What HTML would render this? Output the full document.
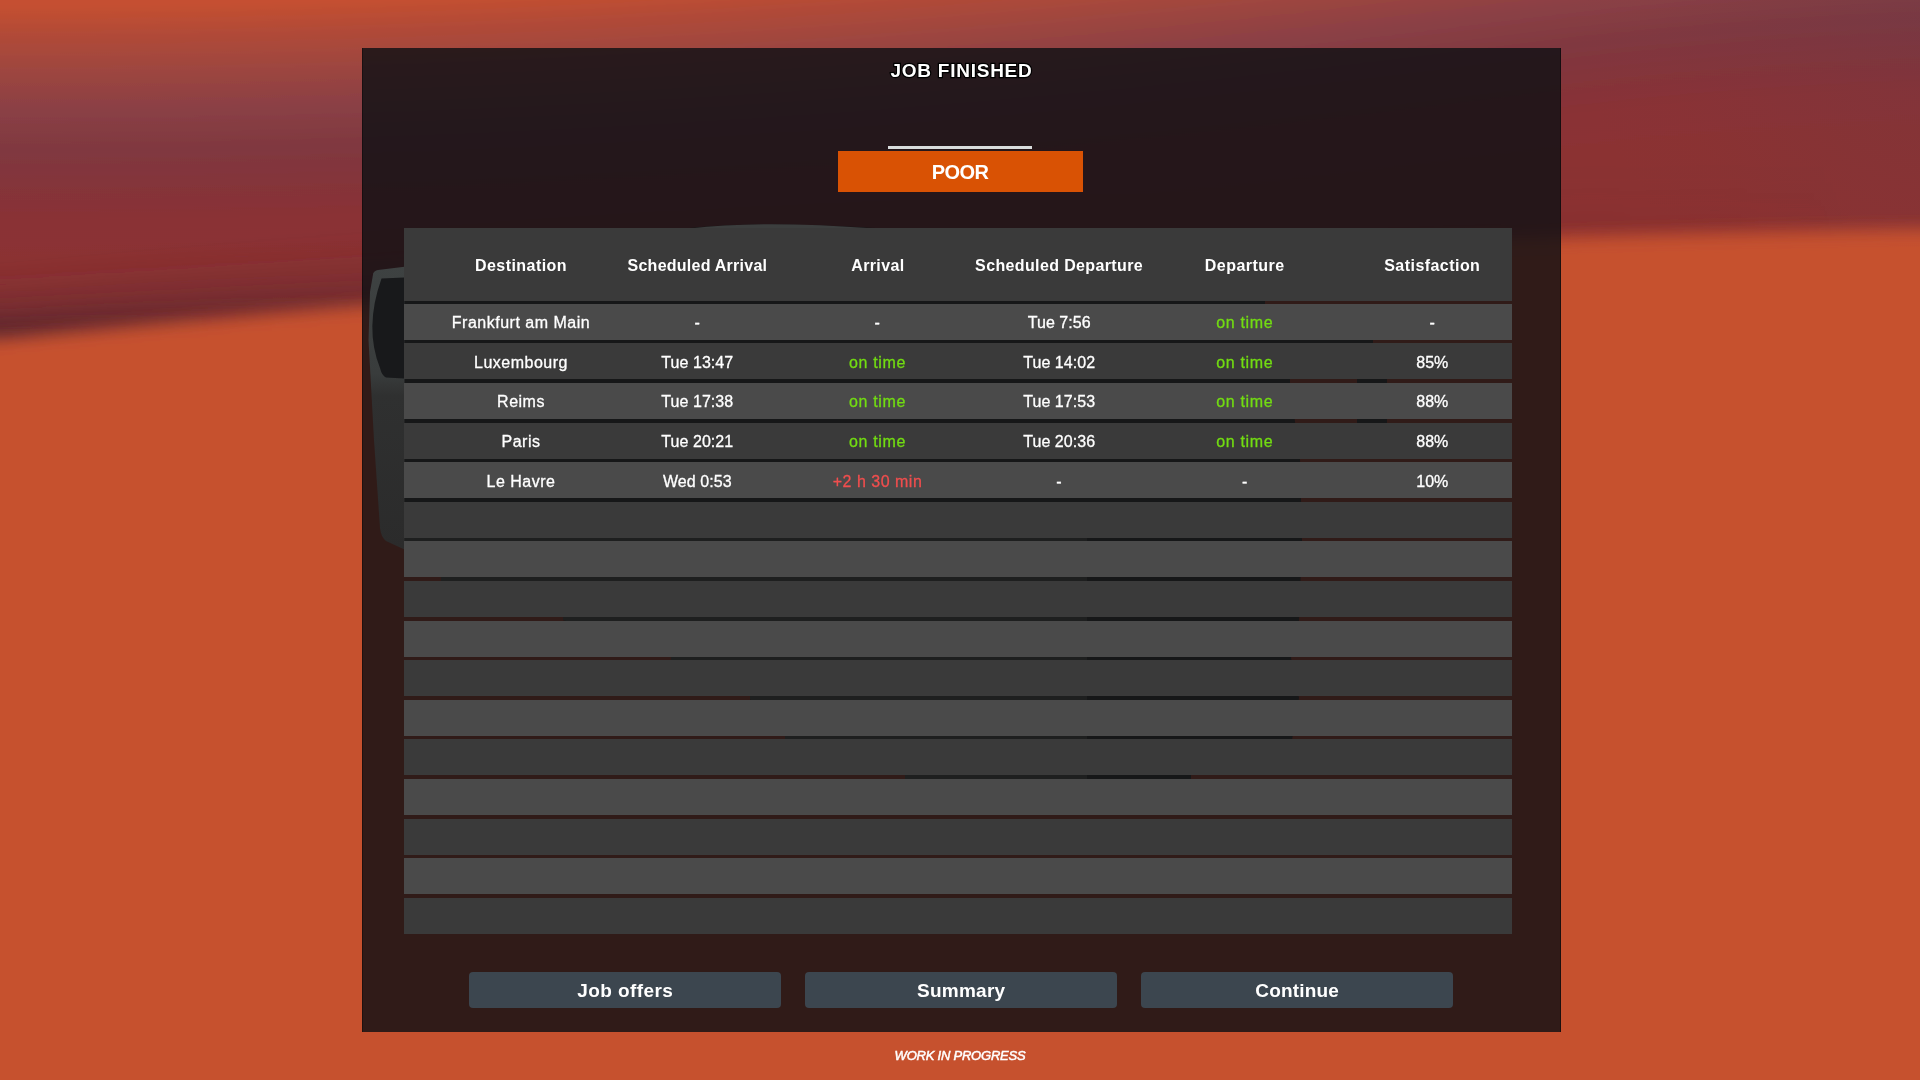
<!DOCTYPE html>
<html>
<head>
<meta charset="utf-8">
<title>Job Finished</title>
<style>
*{margin:0;padding:0;box-sizing:border-box}
html,body{width:1920px;height:1080px;overflow:hidden;background:#c6512f;font-family:"Liberation Sans",sans-serif;}
#bg{position:absolute;left:0;top:0;width:1920px;height:1080px;}
#panel{position:absolute;left:362px;top:48px;width:1199px;height:984px;background:rgba(17,17,20,.83);box-shadow:inset 1px 0 0 rgba(0,0,0,.35),inset -1px 0 0 rgba(0,0,0,.4);}
#fg{position:absolute;left:0;top:0;width:1920px;height:1080px;will-change:transform;}
#art{position:absolute;left:0;top:0;width:1920px;height:1080px;}
.row{position:absolute;left:403.5px;width:1108.5px;height:36px;}
.l{background:#4a4a4a}
.d{background:#3a3a3a}
#head{position:absolute;left:403.5px;top:228px;width:1108.5px;height:73px;background:#3a3a3a}
.t{position:absolute;white-space:nowrap;color:#fff;transform:translateX(-50%);line-height:20px;font-size:16px;letter-spacing:.5px;-webkit-text-stroke:.3px currentColor;}
.n{letter-spacing:.05px}
.h{font-weight:bold;top:255.7px;letter-spacing:.45px;-webkit-text-stroke:0}
.g{color:#72dc12;letter-spacing:.65px}
.r{color:#f04e4e}
#title{position:absolute;left:961.5px;top:59.1px;transform:translateX(-50%);white-space:nowrap;color:#fff;font-weight:bold;font-size:19px;line-height:24px;letter-spacing:.75px;-webkit-text-stroke:2.5px #000;paint-order:stroke fill;}
#uline{position:absolute;left:888px;top:145.5px;width:144px;height:3.5px;background:#d9dddd}
#badge{position:absolute;left:837.5px;top:151px;width:245px;height:40.7px;background:#d95204;color:#fff;font-weight:bold;font-size:20px;text-align:center;line-height:42.2px;letter-spacing:-.6px;}
.btn{position:absolute;top:971.7px;width:312px;height:36px;background:#3c464f;border-radius:4px;color:#fff;font-weight:bold;font-size:19px;text-align:center;line-height:38.4px;letter-spacing:.4px;}
#wip{position:absolute;left:960px;top:1047.3px;transform:translateX(-50%);white-space:nowrap;color:#fff;font-style:italic;font-size:13px;line-height:18px;letter-spacing:-.22px;-webkit-text-stroke:.5px #fff;}
</style>
</head>
<body>
<svg id="bg" viewBox="0 0 1920 1080">
<defs>
<linearGradient id="gt" x1="0" y1="0" x2="0" y2="1"><stop offset="0.0000" stop-color="#c6512f"/><stop offset="0.0750" stop-color="#c55030"/><stop offset="0.1283" stop-color="#b04a38"/><stop offset="0.1900" stop-color="#9c4540"/><stop offset="0.2517" stop-color="#8a4045"/><stop offset="0.3167" stop-color="#803840"/><stop offset="0.3750" stop-color="#84343a"/><stop offset="0.4367" stop-color="#8a3235"/><stop offset="0.5000" stop-color="#8b3133"/><stop offset="1.0000" stop-color="#8b3133"/></linearGradient>
<linearGradient id="gb" x1="0" y1="0" x2="0" y2="1"><stop offset="0.0000" stop-color="#c6512f" stop-opacity="0"/><stop offset="0.0067" stop-color="#c6512f" stop-opacity="0.08"/><stop offset="0.0133" stop-color="#c6512f" stop-opacity="0.3"/><stop offset="0.0200" stop-color="#c6512f" stop-opacity="0.6"/><stop offset="0.0267" stop-color="#c6512f" stop-opacity="0.85"/><stop offset="0.0333" stop-color="#c6512f" stop-opacity="0.96"/><stop offset="0.0400" stop-color="#c6512f" stop-opacity="1"/><stop offset="1.0000" stop-color="#c6512f" stop-opacity="1"/></linearGradient>
<linearGradient id="gd" x1="0" y1="0" x2="0" y2="1"><stop offset="0.0000" stop-color="#5f272e" stop-opacity="0"/><stop offset="0.2778" stop-color="#5f272e" stop-opacity="0.12"/><stop offset="0.5000" stop-color="#5f272e" stop-opacity="0.4"/><stop offset="0.6889" stop-color="#5f272e" stop-opacity="0.8"/><stop offset="0.8333" stop-color="#5f272e" stop-opacity="1"/><stop offset="1.0000" stop-color="#5f272e" stop-opacity="1"/></linearGradient>
<radialGradient id="gp" gradientUnits="userSpaceOnUse" cx="1960" cy="-40" r="400"><stop offset="0" stop-color="#6a3a48" stop-opacity="0.45"/><stop offset="0.4" stop-color="#6a3a48" stop-opacity="0.2"/><stop offset="0.8" stop-color="#6a3a48" stop-opacity="0.03"/><stop offset="1" stop-color="#6a3a4c" stop-opacity="0"/></radialGradient>
<filter id="bx" x="-5%" y="-5%" width="110%" height="110%"><feGaussianBlur stdDeviation="12 0.5"/></filter>
</defs>
<rect width="1920" height="1080" fill="#c6512f"/>
<g filter="url(#bx)"><rect x="-48" y="-40.0" width="16.6" height="600" fill="url(#gt)"/><rect x="-32" y="-40.0" width="16.6" height="600" fill="url(#gt)"/><rect x="-16" y="-40.0" width="16.6" height="600" fill="url(#gt)"/><rect x="0" y="-40.0" width="16.6" height="600" fill="url(#gt)"/><rect x="16" y="-40.0" width="16.6" height="600" fill="url(#gt)"/><rect x="32" y="-40.1" width="16.6" height="600" fill="url(#gt)"/><rect x="48" y="-40.1" width="16.6" height="600" fill="url(#gt)"/><rect x="64" y="-40.2" width="16.6" height="600" fill="url(#gt)"/><rect x="80" y="-40.3" width="16.6" height="600" fill="url(#gt)"/><rect x="96" y="-40.5" width="16.6" height="600" fill="url(#gt)"/><rect x="112" y="-40.6" width="16.6" height="600" fill="url(#gt)"/><rect x="128" y="-40.8" width="16.6" height="600" fill="url(#gt)"/><rect x="144" y="-41.0" width="16.6" height="600" fill="url(#gt)"/><rect x="160" y="-41.2" width="16.6" height="600" fill="url(#gt)"/><rect x="176" y="-41.5" width="16.6" height="600" fill="url(#gt)"/><rect x="192" y="-41.7" width="16.6" height="600" fill="url(#gt)"/><rect x="208" y="-42.0" width="16.6" height="600" fill="url(#gt)"/><rect x="224" y="-42.3" width="16.6" height="600" fill="url(#gt)"/><rect x="240" y="-42.6" width="16.6" height="600" fill="url(#gt)"/><rect x="256" y="-43.0" width="16.6" height="600" fill="url(#gt)"/><rect x="272" y="-43.4" width="16.6" height="600" fill="url(#gt)"/><rect x="288" y="-43.8" width="16.6" height="600" fill="url(#gt)"/><rect x="304" y="-44.2" width="16.6" height="600" fill="url(#gt)"/><rect x="320" y="-44.6" width="16.6" height="600" fill="url(#gt)"/><rect x="336" y="-45.1" width="16.6" height="600" fill="url(#gt)"/><rect x="352" y="-45.6" width="16.6" height="600" fill="url(#gt)"/><rect x="368" y="-46.1" width="16.6" height="600" fill="url(#gt)"/><rect x="384" y="-46.6" width="16.6" height="600" fill="url(#gt)"/><rect x="400" y="-47.2" width="16.6" height="600" fill="url(#gt)"/><rect x="416" y="-47.7" width="16.6" height="600" fill="url(#gt)"/><rect x="432" y="-48.3" width="16.6" height="600" fill="url(#gt)"/><rect x="448" y="-48.9" width="16.6" height="600" fill="url(#gt)"/><rect x="464" y="-49.6" width="16.6" height="600" fill="url(#gt)"/><rect x="480" y="-50.2" width="16.6" height="600" fill="url(#gt)"/><rect x="496" y="-50.9" width="16.6" height="600" fill="url(#gt)"/><rect x="512" y="-51.6" width="16.6" height="600" fill="url(#gt)"/><rect x="528" y="-52.4" width="16.6" height="600" fill="url(#gt)"/><rect x="544" y="-53.1" width="16.6" height="600" fill="url(#gt)"/><rect x="560" y="-53.9" width="16.6" height="600" fill="url(#gt)"/><rect x="576" y="-54.7" width="16.6" height="600" fill="url(#gt)"/><rect x="592" y="-55.5" width="16.6" height="600" fill="url(#gt)"/><rect x="608" y="-56.3" width="16.6" height="600" fill="url(#gt)"/><rect x="624" y="-57.2" width="16.6" height="600" fill="url(#gt)"/><rect x="640" y="-58.1" width="16.6" height="600" fill="url(#gt)"/><rect x="656" y="-59.0" width="16.6" height="600" fill="url(#gt)"/><rect x="672" y="-59.9" width="16.6" height="600" fill="url(#gt)"/><rect x="688" y="-60.8" width="16.6" height="600" fill="url(#gt)"/><rect x="704" y="-61.8" width="16.6" height="600" fill="url(#gt)"/><rect x="720" y="-62.8" width="16.6" height="600" fill="url(#gt)"/><rect x="736" y="-63.8" width="16.6" height="600" fill="url(#gt)"/><rect x="752" y="-64.8" width="16.6" height="600" fill="url(#gt)"/><rect x="768" y="-65.9" width="16.6" height="600" fill="url(#gt)"/><rect x="784" y="-67.0" width="16.6" height="600" fill="url(#gt)"/><rect x="800" y="-68.1" width="16.6" height="600" fill="url(#gt)"/><rect x="816" y="-69.2" width="16.6" height="600" fill="url(#gt)"/><rect x="832" y="-70.3" width="16.6" height="600" fill="url(#gt)"/><rect x="848" y="-71.5" width="16.6" height="600" fill="url(#gt)"/><rect x="864" y="-72.7" width="16.6" height="600" fill="url(#gt)"/><rect x="880" y="-73.9" width="16.6" height="600" fill="url(#gt)"/><rect x="896" y="-75.1" width="16.6" height="600" fill="url(#gt)"/><rect x="912" y="-76.4" width="16.6" height="600" fill="url(#gt)"/><rect x="928" y="-77.7" width="16.6" height="600" fill="url(#gt)"/><rect x="944" y="-79.0" width="16.6" height="600" fill="url(#gt)"/><rect x="960" y="-80.3" width="16.6" height="600" fill="url(#gt)"/><rect x="976" y="-81.6" width="16.6" height="600" fill="url(#gt)"/><rect x="992" y="-83.0" width="16.6" height="600" fill="url(#gt)"/><rect x="1008" y="-84.4" width="16.6" height="600" fill="url(#gt)"/><rect x="1024" y="-85.8" width="16.6" height="600" fill="url(#gt)"/><rect x="1040" y="-87.2" width="16.6" height="600" fill="url(#gt)"/><rect x="1056" y="-88.7" width="16.6" height="600" fill="url(#gt)"/><rect x="1072" y="-90.2" width="16.6" height="600" fill="url(#gt)"/><rect x="1088" y="-91.7" width="16.6" height="600" fill="url(#gt)"/><rect x="1104" y="-93.2" width="16.6" height="600" fill="url(#gt)"/><rect x="1120" y="-94.7" width="16.6" height="600" fill="url(#gt)"/><rect x="1136" y="-96.3" width="16.6" height="600" fill="url(#gt)"/><rect x="1152" y="-97.9" width="16.6" height="600" fill="url(#gt)"/><rect x="1168" y="-99.5" width="16.6" height="600" fill="url(#gt)"/><rect x="1184" y="-101.1" width="16.6" height="600" fill="url(#gt)"/><rect x="1200" y="-102.7" width="16.6" height="600" fill="url(#gt)"/><rect x="1216" y="-104.4" width="16.6" height="600" fill="url(#gt)"/><rect x="1232" y="-106.1" width="16.6" height="600" fill="url(#gt)"/><rect x="1248" y="-107.8" width="16.6" height="600" fill="url(#gt)"/><rect x="1264" y="-109.6" width="16.6" height="600" fill="url(#gt)"/><rect x="1280" y="-111.3" width="16.6" height="600" fill="url(#gt)"/><rect x="1296" y="-113.1" width="16.6" height="600" fill="url(#gt)"/><rect x="1312" y="-114.9" width="16.6" height="600" fill="url(#gt)"/><rect x="1328" y="-116.8" width="16.6" height="600" fill="url(#gt)"/><rect x="1344" y="-118.6" width="16.6" height="600" fill="url(#gt)"/><rect x="1360" y="-120.5" width="16.6" height="600" fill="url(#gt)"/><rect x="1376" y="-122.4" width="16.6" height="600" fill="url(#gt)"/><rect x="1392" y="-124.3" width="16.6" height="600" fill="url(#gt)"/><rect x="1408" y="-126.2" width="16.6" height="600" fill="url(#gt)"/><rect x="1424" y="-128.2" width="16.6" height="600" fill="url(#gt)"/><rect x="1440" y="-130.2" width="16.6" height="600" fill="url(#gt)"/><rect x="1456" y="-132.2" width="16.6" height="600" fill="url(#gt)"/><rect x="1472" y="-134.2" width="16.6" height="600" fill="url(#gt)"/><rect x="1488" y="-136.2" width="16.6" height="600" fill="url(#gt)"/><rect x="1504" y="-138.3" width="16.6" height="600" fill="url(#gt)"/><rect x="1520" y="-140.3" width="16.6" height="600" fill="url(#gt)"/><rect x="1536" y="-142.2" width="16.6" height="600" fill="url(#gt)"/><rect x="1552" y="-144.1" width="16.6" height="600" fill="url(#gt)"/><rect x="1568" y="-145.9" width="16.6" height="600" fill="url(#gt)"/><rect x="1584" y="-147.7" width="16.6" height="600" fill="url(#gt)"/><rect x="1600" y="-149.4" width="16.6" height="600" fill="url(#gt)"/><rect x="1616" y="-151.1" width="16.6" height="600" fill="url(#gt)"/><rect x="1632" y="-152.7" width="16.6" height="600" fill="url(#gt)"/><rect x="1648" y="-154.2" width="16.6" height="600" fill="url(#gt)"/><rect x="1664" y="-155.7" width="16.6" height="600" fill="url(#gt)"/><rect x="1680" y="-157.1" width="16.6" height="600" fill="url(#gt)"/><rect x="1696" y="-158.5" width="16.6" height="600" fill="url(#gt)"/><rect x="1712" y="-159.8" width="16.6" height="600" fill="url(#gt)"/><rect x="1728" y="-161.1" width="16.6" height="600" fill="url(#gt)"/><rect x="1744" y="-162.3" width="16.6" height="600" fill="url(#gt)"/><rect x="1760" y="-163.4" width="16.6" height="600" fill="url(#gt)"/><rect x="1776" y="-164.5" width="16.6" height="600" fill="url(#gt)"/><rect x="1792" y="-165.5" width="16.6" height="600" fill="url(#gt)"/><rect x="1808" y="-166.5" width="16.6" height="600" fill="url(#gt)"/><rect x="1824" y="-167.5" width="16.6" height="600" fill="url(#gt)"/><rect x="1840" y="-168.3" width="16.6" height="600" fill="url(#gt)"/><rect x="1856" y="-169.1" width="16.6" height="600" fill="url(#gt)"/><rect x="1872" y="-169.9" width="16.6" height="600" fill="url(#gt)"/><rect x="1888" y="-170.6" width="16.6" height="600" fill="url(#gt)"/><rect x="1904" y="-171.2" width="16.6" height="600" fill="url(#gt)"/><rect x="1920" y="-171.8" width="16.6" height="600" fill="url(#gt)"/><rect x="1936" y="-172.3" width="16.6" height="600" fill="url(#gt)"/><rect x="1952" y="-172.8" width="16.6" height="600" fill="url(#gt)"/></g>
<rect x="1300" y="0" width="620" height="300" fill="url(#gp)"/>
<g filter="url(#bx)"><rect x="-48" y="261.0" width="16.6" height="90" fill="url(#gd)" opacity="1.00"/><rect x="-32" y="261.0" width="16.6" height="90" fill="url(#gd)" opacity="1.00"/><rect x="-16" y="261.0" width="16.6" height="90" fill="url(#gd)" opacity="1.00"/><rect x="0" y="260.2" width="16.6" height="90" fill="url(#gd)" opacity="0.98"/><rect x="16" y="258.6" width="16.6" height="90" fill="url(#gd)" opacity="0.95"/><rect x="32" y="257.0" width="16.6" height="90" fill="url(#gd)" opacity="0.93"/><rect x="48" y="255.4" width="16.6" height="90" fill="url(#gd)" opacity="0.90"/><rect x="64" y="253.9" width="16.6" height="90" fill="url(#gd)" opacity="0.87"/><rect x="80" y="252.3" width="16.6" height="90" fill="url(#gd)" opacity="0.84"/><rect x="96" y="250.8" width="16.6" height="90" fill="url(#gd)" opacity="0.82"/><rect x="112" y="249.3" width="16.6" height="90" fill="url(#gd)" opacity="0.79"/><rect x="128" y="247.7" width="16.6" height="90" fill="url(#gd)" opacity="0.77"/><rect x="144" y="246.2" width="16.6" height="90" fill="url(#gd)" opacity="0.75"/><rect x="160" y="244.8" width="16.6" height="90" fill="url(#gd)" opacity="0.72"/><rect x="176" y="243.3" width="16.6" height="90" fill="url(#gd)" opacity="0.70"/><rect x="192" y="241.8" width="16.6" height="90" fill="url(#gd)" opacity="0.68"/><rect x="208" y="240.3" width="16.6" height="90" fill="url(#gd)" opacity="0.66"/><rect x="224" y="238.9" width="16.6" height="90" fill="url(#gd)" opacity="0.64"/><rect x="240" y="237.5" width="16.6" height="90" fill="url(#gd)" opacity="0.62"/><rect x="256" y="236.0" width="16.6" height="90" fill="url(#gd)" opacity="0.60"/><rect x="272" y="234.6" width="16.6" height="90" fill="url(#gd)" opacity="0.58"/><rect x="288" y="233.2" width="16.6" height="90" fill="url(#gd)" opacity="0.57"/><rect x="304" y="231.8" width="16.6" height="90" fill="url(#gd)" opacity="0.55"/><rect x="320" y="230.5" width="16.6" height="90" fill="url(#gd)" opacity="0.53"/><rect x="336" y="229.1" width="16.6" height="90" fill="url(#gd)" opacity="0.52"/><rect x="352" y="227.7" width="16.6" height="90" fill="url(#gd)" opacity="0.50"/><rect x="368" y="226.4" width="16.6" height="90" fill="url(#gd)" opacity="0.49"/><rect x="384" y="225.1" width="16.6" height="90" fill="url(#gd)" opacity="0.47"/><rect x="400" y="223.7" width="16.6" height="90" fill="url(#gd)" opacity="0.46"/><rect x="416" y="222.4" width="16.6" height="90" fill="url(#gd)" opacity="0.44"/><rect x="432" y="221.1" width="16.6" height="90" fill="url(#gd)" opacity="0.43"/><rect x="448" y="219.9" width="16.6" height="90" fill="url(#gd)" opacity="0.42"/><rect x="464" y="218.6" width="16.6" height="90" fill="url(#gd)" opacity="0.40"/><rect x="480" y="217.3" width="16.6" height="90" fill="url(#gd)" opacity="0.39"/><rect x="496" y="216.1" width="16.6" height="90" fill="url(#gd)" opacity="0.38"/><rect x="512" y="214.8" width="16.6" height="90" fill="url(#gd)" opacity="0.37"/><rect x="528" y="213.6" width="16.6" height="90" fill="url(#gd)" opacity="0.36"/><rect x="544" y="212.4" width="16.6" height="90" fill="url(#gd)" opacity="0.35"/><rect x="560" y="211.2" width="16.6" height="90" fill="url(#gd)" opacity="0.34"/><rect x="576" y="210.0" width="16.6" height="90" fill="url(#gd)" opacity="0.33"/><rect x="592" y="208.8" width="16.6" height="90" fill="url(#gd)" opacity="0.32"/><rect x="608" y="207.6" width="16.6" height="90" fill="url(#gd)" opacity="0.31"/><rect x="624" y="206.5" width="16.6" height="90" fill="url(#gd)" opacity="0.30"/><rect x="640" y="205.3" width="16.6" height="90" fill="url(#gd)" opacity="0.29"/><rect x="656" y="204.2" width="16.6" height="90" fill="url(#gd)" opacity="0.28"/><rect x="672" y="203.1" width="16.6" height="90" fill="url(#gd)" opacity="0.27"/><rect x="688" y="202.0" width="16.6" height="90" fill="url(#gd)" opacity="0.26"/><rect x="704" y="200.9" width="16.6" height="90" fill="url(#gd)" opacity="0.25"/><rect x="720" y="199.8" width="16.6" height="90" fill="url(#gd)" opacity="0.25"/><rect x="736" y="198.7" width="16.6" height="90" fill="url(#gd)" opacity="0.24"/><rect x="752" y="197.6" width="16.6" height="90" fill="url(#gd)" opacity="0.23"/><rect x="768" y="196.6" width="16.6" height="90" fill="url(#gd)" opacity="0.22"/><rect x="784" y="195.5" width="16.6" height="90" fill="url(#gd)" opacity="0.22"/><rect x="800" y="194.5" width="16.6" height="90" fill="url(#gd)" opacity="0.21"/><rect x="816" y="193.5" width="16.6" height="90" fill="url(#gd)" opacity="0.21"/><rect x="832" y="192.5" width="16.6" height="90" fill="url(#gd)" opacity="0.20"/><rect x="848" y="191.5" width="16.6" height="90" fill="url(#gd)" opacity="0.19"/><rect x="864" y="190.5" width="16.6" height="90" fill="url(#gd)" opacity="0.19"/><rect x="880" y="189.5" width="16.6" height="90" fill="url(#gd)" opacity="0.18"/><rect x="896" y="188.5" width="16.6" height="90" fill="url(#gd)" opacity="0.18"/><rect x="912" y="187.6" width="16.6" height="90" fill="url(#gd)" opacity="0.17"/><rect x="928" y="186.6" width="16.6" height="90" fill="url(#gd)" opacity="0.17"/><rect x="944" y="185.7" width="16.6" height="90" fill="url(#gd)" opacity="0.16"/><rect x="960" y="184.8" width="16.6" height="90" fill="url(#gd)" opacity="0.16"/><rect x="976" y="183.9" width="16.6" height="90" fill="url(#gd)" opacity="0.15"/><rect x="992" y="183.0" width="16.6" height="90" fill="url(#gd)" opacity="0.15"/><rect x="1008" y="182.1" width="16.6" height="90" fill="url(#gd)" opacity="0.14"/><rect x="1024" y="181.2" width="16.6" height="90" fill="url(#gd)" opacity="0.14"/><rect x="1040" y="180.4" width="16.6" height="90" fill="url(#gd)" opacity="0.13"/><rect x="1056" y="179.5" width="16.6" height="90" fill="url(#gd)" opacity="0.13"/><rect x="1072" y="178.7" width="16.6" height="90" fill="url(#gd)" opacity="0.13"/><rect x="1088" y="177.9" width="16.6" height="90" fill="url(#gd)" opacity="0.12"/><rect x="1104" y="177.1" width="16.6" height="90" fill="url(#gd)" opacity="0.12"/><rect x="1120" y="176.3" width="16.6" height="90" fill="url(#gd)" opacity="0.11"/><rect x="1136" y="175.5" width="16.6" height="90" fill="url(#gd)" opacity="0.11"/><rect x="1152" y="174.7" width="16.6" height="90" fill="url(#gd)" opacity="0.11"/><rect x="1168" y="173.9" width="16.6" height="90" fill="url(#gd)" opacity="0.10"/><rect x="1184" y="173.2" width="16.6" height="90" fill="url(#gd)" opacity="0.10"/><rect x="1200" y="172.4" width="16.6" height="90" fill="url(#gd)" opacity="0.10"/><rect x="1216" y="171.7" width="16.6" height="90" fill="url(#gd)" opacity="0.10"/><rect x="1232" y="171.0" width="16.6" height="90" fill="url(#gd)" opacity="0.09"/><rect x="1248" y="170.3" width="16.6" height="90" fill="url(#gd)" opacity="0.09"/><rect x="1264" y="169.6" width="16.6" height="90" fill="url(#gd)" opacity="0.09"/><rect x="1280" y="168.9" width="16.6" height="90" fill="url(#gd)" opacity="0.08"/><rect x="1296" y="168.2" width="16.6" height="90" fill="url(#gd)" opacity="0.08"/><rect x="1312" y="167.5" width="16.6" height="90" fill="url(#gd)" opacity="0.08"/><rect x="1328" y="166.9" width="16.6" height="90" fill="url(#gd)" opacity="0.08"/><rect x="1344" y="166.3" width="16.6" height="90" fill="url(#gd)" opacity="0.07"/><rect x="1360" y="165.6" width="16.6" height="90" fill="url(#gd)" opacity="0.07"/><rect x="1376" y="165.0" width="16.6" height="90" fill="url(#gd)" opacity="0.07"/><rect x="1392" y="164.4" width="16.6" height="90" fill="url(#gd)" opacity="0.07"/><rect x="1408" y="163.8" width="16.6" height="90" fill="url(#gd)" opacity="0.07"/><rect x="1424" y="163.2" width="16.6" height="90" fill="url(#gd)" opacity="0.06"/><rect x="1440" y="162.7" width="16.6" height="90" fill="url(#gd)" opacity="0.06"/><rect x="1456" y="162.1" width="16.6" height="90" fill="url(#gd)" opacity="0.06"/><rect x="1472" y="161.5" width="16.6" height="90" fill="url(#gd)" opacity="0.06"/><rect x="1488" y="161.0" width="16.6" height="90" fill="url(#gd)" opacity="0.06"/><rect x="1504" y="160.5" width="16.6" height="90" fill="url(#gd)" opacity="0.05"/><rect x="1520" y="160.0" width="16.6" height="90" fill="url(#gd)" opacity="0.05"/><rect x="1536" y="159.5" width="16.6" height="90" fill="url(#gd)" opacity="0.05"/><rect x="1552" y="159.0" width="16.6" height="90" fill="url(#gd)" opacity="0.05"/><rect x="1568" y="158.5" width="16.6" height="90" fill="url(#gd)" opacity="0.05"/><rect x="1584" y="158.0" width="16.6" height="90" fill="url(#gd)" opacity="0.05"/><rect x="1600" y="157.6" width="16.6" height="90" fill="url(#gd)" opacity="0.05"/><rect x="1616" y="157.1" width="16.6" height="90" fill="url(#gd)" opacity="0.04"/><rect x="1632" y="156.7" width="16.6" height="90" fill="url(#gd)" opacity="0.04"/><rect x="1648" y="156.3" width="16.6" height="90" fill="url(#gd)" opacity="0.04"/><rect x="1664" y="155.9" width="16.6" height="90" fill="url(#gd)" opacity="0.04"/><rect x="1680" y="155.5" width="16.6" height="90" fill="url(#gd)" opacity="0.04"/><rect x="1696" y="155.1" width="16.6" height="90" fill="url(#gd)" opacity="0.04"/><rect x="1712" y="154.7" width="16.6" height="90" fill="url(#gd)" opacity="0.04"/><rect x="1728" y="154.3" width="16.6" height="90" fill="url(#gd)" opacity="0.04"/><rect x="1744" y="154.0" width="16.6" height="90" fill="url(#gd)" opacity="0.03"/><rect x="1760" y="153.6" width="16.6" height="90" fill="url(#gd)" opacity="0.03"/><rect x="1776" y="153.3" width="16.6" height="90" fill="url(#gd)" opacity="0.03"/><rect x="1792" y="153.0" width="16.6" height="90" fill="url(#gd)" opacity="0.03"/><rect x="1808" y="152.7" width="16.6" height="90" fill="url(#gd)" opacity="0.03"/></g>
<g filter="url(#bx)"><rect x="-48" y="323.0" width="16.6" height="900" fill="url(#gb)"/><rect x="-32" y="323.0" width="16.6" height="900" fill="url(#gb)"/><rect x="-16" y="323.0" width="16.6" height="900" fill="url(#gb)"/><rect x="0" y="322.2" width="16.6" height="900" fill="url(#gb)"/><rect x="16" y="320.6" width="16.6" height="900" fill="url(#gb)"/><rect x="32" y="319.0" width="16.6" height="900" fill="url(#gb)"/><rect x="48" y="317.4" width="16.6" height="900" fill="url(#gb)"/><rect x="64" y="315.9" width="16.6" height="900" fill="url(#gb)"/><rect x="80" y="314.3" width="16.6" height="900" fill="url(#gb)"/><rect x="96" y="312.8" width="16.6" height="900" fill="url(#gb)"/><rect x="112" y="311.3" width="16.6" height="900" fill="url(#gb)"/><rect x="128" y="309.7" width="16.6" height="900" fill="url(#gb)"/><rect x="144" y="308.2" width="16.6" height="900" fill="url(#gb)"/><rect x="160" y="306.8" width="16.6" height="900" fill="url(#gb)"/><rect x="176" y="305.3" width="16.6" height="900" fill="url(#gb)"/><rect x="192" y="303.8" width="16.6" height="900" fill="url(#gb)"/><rect x="208" y="302.3" width="16.6" height="900" fill="url(#gb)"/><rect x="224" y="300.9" width="16.6" height="900" fill="url(#gb)"/><rect x="240" y="299.5" width="16.6" height="900" fill="url(#gb)"/><rect x="256" y="298.0" width="16.6" height="900" fill="url(#gb)"/><rect x="272" y="296.6" width="16.6" height="900" fill="url(#gb)"/><rect x="288" y="295.2" width="16.6" height="900" fill="url(#gb)"/><rect x="304" y="293.8" width="16.6" height="900" fill="url(#gb)"/><rect x="320" y="292.5" width="16.6" height="900" fill="url(#gb)"/><rect x="336" y="291.1" width="16.6" height="900" fill="url(#gb)"/><rect x="352" y="289.7" width="16.6" height="900" fill="url(#gb)"/><rect x="368" y="288.4" width="16.6" height="900" fill="url(#gb)"/><rect x="384" y="287.1" width="16.6" height="900" fill="url(#gb)"/><rect x="400" y="285.7" width="16.6" height="900" fill="url(#gb)"/><rect x="416" y="284.4" width="16.6" height="900" fill="url(#gb)"/><rect x="432" y="283.1" width="16.6" height="900" fill="url(#gb)"/><rect x="448" y="281.9" width="16.6" height="900" fill="url(#gb)"/><rect x="464" y="280.6" width="16.6" height="900" fill="url(#gb)"/><rect x="480" y="279.3" width="16.6" height="900" fill="url(#gb)"/><rect x="496" y="278.1" width="16.6" height="900" fill="url(#gb)"/><rect x="512" y="276.8" width="16.6" height="900" fill="url(#gb)"/><rect x="528" y="275.6" width="16.6" height="900" fill="url(#gb)"/><rect x="544" y="274.4" width="16.6" height="900" fill="url(#gb)"/><rect x="560" y="273.2" width="16.6" height="900" fill="url(#gb)"/><rect x="576" y="272.0" width="16.6" height="900" fill="url(#gb)"/><rect x="592" y="270.8" width="16.6" height="900" fill="url(#gb)"/><rect x="608" y="269.6" width="16.6" height="900" fill="url(#gb)"/><rect x="624" y="268.5" width="16.6" height="900" fill="url(#gb)"/><rect x="640" y="267.3" width="16.6" height="900" fill="url(#gb)"/><rect x="656" y="266.2" width="16.6" height="900" fill="url(#gb)"/><rect x="672" y="265.1" width="16.6" height="900" fill="url(#gb)"/><rect x="688" y="264.0" width="16.6" height="900" fill="url(#gb)"/><rect x="704" y="262.9" width="16.6" height="900" fill="url(#gb)"/><rect x="720" y="261.8" width="16.6" height="900" fill="url(#gb)"/><rect x="736" y="260.7" width="16.6" height="900" fill="url(#gb)"/><rect x="752" y="259.6" width="16.6" height="900" fill="url(#gb)"/><rect x="768" y="258.6" width="16.6" height="900" fill="url(#gb)"/><rect x="784" y="257.5" width="16.6" height="900" fill="url(#gb)"/><rect x="800" y="256.5" width="16.6" height="900" fill="url(#gb)"/><rect x="816" y="255.5" width="16.6" height="900" fill="url(#gb)"/><rect x="832" y="254.5" width="16.6" height="900" fill="url(#gb)"/><rect x="848" y="253.5" width="16.6" height="900" fill="url(#gb)"/><rect x="864" y="252.5" width="16.6" height="900" fill="url(#gb)"/><rect x="880" y="251.5" width="16.6" height="900" fill="url(#gb)"/><rect x="896" y="250.5" width="16.6" height="900" fill="url(#gb)"/><rect x="912" y="249.6" width="16.6" height="900" fill="url(#gb)"/><rect x="928" y="248.6" width="16.6" height="900" fill="url(#gb)"/><rect x="944" y="247.7" width="16.6" height="900" fill="url(#gb)"/><rect x="960" y="246.8" width="16.6" height="900" fill="url(#gb)"/><rect x="976" y="245.9" width="16.6" height="900" fill="url(#gb)"/><rect x="992" y="245.0" width="16.6" height="900" fill="url(#gb)"/><rect x="1008" y="244.1" width="16.6" height="900" fill="url(#gb)"/><rect x="1024" y="243.2" width="16.6" height="900" fill="url(#gb)"/><rect x="1040" y="242.4" width="16.6" height="900" fill="url(#gb)"/><rect x="1056" y="241.5" width="16.6" height="900" fill="url(#gb)"/><rect x="1072" y="240.7" width="16.6" height="900" fill="url(#gb)"/><rect x="1088" y="239.9" width="16.6" height="900" fill="url(#gb)"/><rect x="1104" y="239.1" width="16.6" height="900" fill="url(#gb)"/><rect x="1120" y="238.3" width="16.6" height="900" fill="url(#gb)"/><rect x="1136" y="237.5" width="16.6" height="900" fill="url(#gb)"/><rect x="1152" y="236.7" width="16.6" height="900" fill="url(#gb)"/><rect x="1168" y="235.9" width="16.6" height="900" fill="url(#gb)"/><rect x="1184" y="235.2" width="16.6" height="900" fill="url(#gb)"/><rect x="1200" y="234.4" width="16.6" height="900" fill="url(#gb)"/><rect x="1216" y="233.7" width="16.6" height="900" fill="url(#gb)"/><rect x="1232" y="233.0" width="16.6" height="900" fill="url(#gb)"/><rect x="1248" y="232.3" width="16.6" height="900" fill="url(#gb)"/><rect x="1264" y="231.6" width="16.6" height="900" fill="url(#gb)"/><rect x="1280" y="230.9" width="16.6" height="900" fill="url(#gb)"/><rect x="1296" y="230.2" width="16.6" height="900" fill="url(#gb)"/><rect x="1312" y="229.5" width="16.6" height="900" fill="url(#gb)"/><rect x="1328" y="228.9" width="16.6" height="900" fill="url(#gb)"/><rect x="1344" y="228.3" width="16.6" height="900" fill="url(#gb)"/><rect x="1360" y="227.6" width="16.6" height="900" fill="url(#gb)"/><rect x="1376" y="227.0" width="16.6" height="900" fill="url(#gb)"/><rect x="1392" y="226.4" width="16.6" height="900" fill="url(#gb)"/><rect x="1408" y="225.8" width="16.6" height="900" fill="url(#gb)"/><rect x="1424" y="225.2" width="16.6" height="900" fill="url(#gb)"/><rect x="1440" y="224.7" width="16.6" height="900" fill="url(#gb)"/><rect x="1456" y="224.1" width="16.6" height="900" fill="url(#gb)"/><rect x="1472" y="223.5" width="16.6" height="900" fill="url(#gb)"/><rect x="1488" y="223.0" width="16.6" height="900" fill="url(#gb)"/><rect x="1504" y="222.5" width="16.6" height="900" fill="url(#gb)"/><rect x="1520" y="222.0" width="16.6" height="900" fill="url(#gb)"/><rect x="1536" y="221.5" width="16.6" height="900" fill="url(#gb)"/><rect x="1552" y="221.0" width="16.6" height="900" fill="url(#gb)"/><rect x="1568" y="220.5" width="16.6" height="900" fill="url(#gb)"/><rect x="1584" y="220.0" width="16.6" height="900" fill="url(#gb)"/><rect x="1600" y="219.6" width="16.6" height="900" fill="url(#gb)"/><rect x="1616" y="219.1" width="16.6" height="900" fill="url(#gb)"/><rect x="1632" y="218.7" width="16.6" height="900" fill="url(#gb)"/><rect x="1648" y="218.3" width="16.6" height="900" fill="url(#gb)"/><rect x="1664" y="217.9" width="16.6" height="900" fill="url(#gb)"/><rect x="1680" y="217.5" width="16.6" height="900" fill="url(#gb)"/><rect x="1696" y="217.1" width="16.6" height="900" fill="url(#gb)"/><rect x="1712" y="216.7" width="16.6" height="900" fill="url(#gb)"/><rect x="1728" y="216.3" width="16.6" height="900" fill="url(#gb)"/><rect x="1744" y="216.0" width="16.6" height="900" fill="url(#gb)"/><rect x="1760" y="215.6" width="16.6" height="900" fill="url(#gb)"/><rect x="1776" y="215.3" width="16.6" height="900" fill="url(#gb)"/><rect x="1792" y="215.0" width="16.6" height="900" fill="url(#gb)"/><rect x="1808" y="214.7" width="16.6" height="900" fill="url(#gb)"/><rect x="1824" y="214.4" width="16.6" height="900" fill="url(#gb)"/><rect x="1840" y="214.1" width="16.6" height="900" fill="url(#gb)"/><rect x="1856" y="213.8" width="16.6" height="900" fill="url(#gb)"/><rect x="1872" y="213.6" width="16.6" height="900" fill="url(#gb)"/><rect x="1888" y="213.3" width="16.6" height="900" fill="url(#gb)"/><rect x="1904" y="213.1" width="16.6" height="900" fill="url(#gb)"/><rect x="1920" y="213.0" width="16.6" height="900" fill="url(#gb)"/><rect x="1936" y="213.0" width="16.6" height="900" fill="url(#gb)"/><rect x="1952" y="213.0" width="16.6" height="900" fill="url(#gb)"/></g>
</svg>
<div id="panel"></div>
<svg id="art" viewBox="0 0 1920 1080">
  <defs>
    <linearGradient id="tb" gradientUnits="userSpaceOnUse" x1="0" y1="265" x2="0" y2="550"><stop offset="0" stop-color="#3e4242"/><stop offset="0.38" stop-color="#393c3c"/><stop offset="0.46" stop-color="#2f3030"/><stop offset="1" stop-color="#2b2b2b"/></linearGradient>
  </defs>
  <path d="M404,228 L690,228 Q760,221 875,228 L1265,228 L1265,304 L1373,338 L1373,344 L1290,346 L1290,384 L1300,460 L1302,540 L1299,620 L1291,658 L1299,698 L1292,740 L1191,775 L1191,779 L905,779 L905,775 L785,740 L785,735 L750,699 L750,695 L671,660 L671,655 L563,620 L563,616 L441,581 L441,576 L404,547 Z" fill="#161718"/>
  <path d="M1357,379 h30 v44 h-30 Z" fill="#161718"/>
  <path d="M404,536 L1087,536 L1087,779 L905,779 L905,775 L785,740 L785,735 L750,699 L750,695 L671,660 L671,655 L563,620 L563,616 L441,581 L441,576 L404,547 Z" fill="#1e1f1f"/>
  <path d="M373.2,273.5 Q374.2,270.6 378,270 L404.5,266.7 L404.5,549.5 L386,541 Q381,537 380,528 L374,440 L368.5,340 L370,292 Z" fill="url(#tb)"/>
  <path d="M381.5,278.5 L404.5,277.5 L404.5,378.5 L386,377.5 Q382,376 380,368 Q364,328 381.5,278.5 Z" fill="#18191b"/>
  <path d="M690,228.5 Q760,220 875,228.5 Z" fill="#3c3e3e"/>
</svg>
<div id="fg">
<div id="head"></div>
<div id="rows">
<div class="row l" style="top:303.7px"></div>
<div class="row d" style="top:343.3px"></div>
<div class="row l" style="top:382.9px"></div>
<div class="row d" style="top:422.5px"></div>
<div class="row l" style="top:462.1px"></div>
<div class="row d" style="top:501.7px"></div>
<div class="row l" style="top:541.3px"></div>
<div class="row d" style="top:580.9px"></div>
<div class="row l" style="top:620.5px"></div>
<div class="row d" style="top:660.1px"></div>
<div class="row l" style="top:699.7px"></div>
<div class="row d" style="top:739.3px"></div>
<div class="row l" style="top:778.9px"></div>
<div class="row d" style="top:818.5px"></div>
<div class="row l" style="top:858.1px"></div>
<div class="row d" style="top:897.7px"></div>
</div>
<div id="cells">
<div class="t" style="left:521px;top:313.2px">Frankfurt am Main</div>
<div class="t" style="left:697.3px;top:313.2px">-</div>
<div class="t" style="left:877.5px;top:313.2px">-</div>
<div class="t n" style="left:1059.2px;top:313.2px">Tue 7:56</div>
<div class="t g" style="left:1244.8px;top:313.2px">on time</div>
<div class="t" style="left:1432.3px;top:313.2px">-</div>
<div class="t" style="left:521px;top:352.8px">Luxembourg</div>
<div class="t n" style="left:697.3px;top:352.8px">Tue 13:47</div>
<div class="t g" style="left:877.5px;top:352.8px">on time</div>
<div class="t n" style="left:1059.2px;top:352.8px">Tue 14:02</div>
<div class="t g" style="left:1244.8px;top:352.8px">on time</div>
<div class="t n" style="left:1432.3px;top:352.8px">85%</div>
<div class="t" style="left:521px;top:392.4px">Reims</div>
<div class="t n" style="left:697.3px;top:392.4px">Tue 17:38</div>
<div class="t g" style="left:877.5px;top:392.4px">on time</div>
<div class="t n" style="left:1059.2px;top:392.4px">Tue 17:53</div>
<div class="t g" style="left:1244.8px;top:392.4px">on time</div>
<div class="t n" style="left:1432.3px;top:392.4px">88%</div>
<div class="t" style="left:521px;top:432.0px">Paris</div>
<div class="t n" style="left:697.3px;top:432.0px">Tue 20:21</div>
<div class="t g" style="left:877.5px;top:432.0px">on time</div>
<div class="t n" style="left:1059.2px;top:432.0px">Tue 20:36</div>
<div class="t g" style="left:1244.8px;top:432.0px">on time</div>
<div class="t n" style="left:1432.3px;top:432.0px">88%</div>
<div class="t" style="left:521px;top:471.6px">Le Havre</div>
<div class="t n" style="left:697.3px;top:471.6px">Wed 0:53</div>
<div class="t r" style="left:877.5px;top:471.6px">+2 h 30 min</div>
<div class="t" style="left:1059.2px;top:471.6px">-</div>
<div class="t" style="left:1244.8px;top:471.6px">-</div>
<div class="t n" style="left:1432.3px;top:471.6px">10%</div>
</div>

<div id="title">JOB FINISHED</div>
<div id="uline"></div>
<div id="badge">POOR</div>

<div class="t h" style="left:521px">Destination</div>
<div class="t h" style="left:697.4px;letter-spacing:.25px">Scheduled Arrival</div>
<div class="t h" style="left:877.9px;letter-spacing:.35px">Arrival</div>
<div class="t h" style="left:1059.1px;letter-spacing:.37px">Scheduled Departure</div>
<div class="t h" style="left:1244.7px">Departure</div>
<div class="t h" style="left:1432.3px">Satisfaction</div>

<div class="btn" style="left:469.3px">Job offers</div>
<div class="btn" style="left:805.2px;letter-spacing:.25px">Summary</div>
<div class="btn" style="left:1141.2px;letter-spacing:.2px">Continue</div>
<div id="wip">WORK IN PROGRESS</div>
</div>
</body>
</html>
